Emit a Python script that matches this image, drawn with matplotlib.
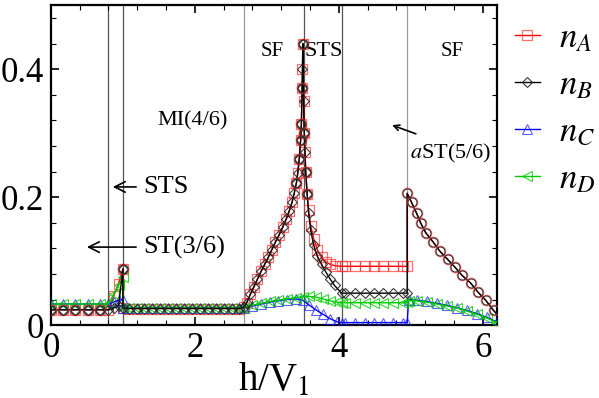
import numpy as np
import matplotlib.pyplot as plt
from matplotlib.ticker import MultipleLocator, FuncFormatter

plt.rcParams['font.family'] = ['Liberation Serif', 'DejaVu Serif']
plt.rcParams['mathtext.fontset'] = 'stix'

# n_A / n_B along the h/V1 sweep (up to the aST -> SF jump)
x_ab = [0, 0.17, 0.34, 0.51, 0.68, 0.80,
        0.87, 0.94, 1.00, 1.00,
        1.08, 1.19, 1.30, 1.41, 1.52, 1.63, 1.74, 1.85, 1.96, 2.07, 2.18, 2.29, 2.40, 2.51, 2.62,
        2.68, 2.72, 2.77, 2.82, 2.87, 2.92, 2.97, 3.02, 3.07, 3.12, 3.17, 3.22, 3.27, 3.31, 3.35,
        3.38, 3.41, 3.43, 3.45, 3.47, 3.48, 3.49, 3.495, 3.50,
        3.51, 3.52, 3.53, 3.54, 3.56, 3.58, 3.61, 3.65, 3.70, 3.76, 3.82, 3.88, 3.94, 4.04,
        4.08, 4.22, 4.36, 4.49, 4.62, 4.75, 4.89, 4.95]
nA = [0.024, 0.024, 0.024, 0.024, 0.024, 0.024,
      0.045, 0.065, 0.088, 0.027,
      0.026, 0.026, 0.026, 0.026, 0.026, 0.026, 0.026, 0.026, 0.026, 0.026, 0.026, 0.026, 0.026, 0.026, 0.026,
      0.028, 0.035, 0.048, 0.060, 0.072, 0.084, 0.095, 0.106, 0.118, 0.130, 0.141, 0.153, 0.166, 0.178, 0.192,
      0.206, 0.222, 0.238, 0.260, 0.290, 0.315, 0.370, 0.400, 0.440,
      0.350, 0.300, 0.270, 0.240, 0.205, 0.180, 0.155, 0.135, 0.118, 0.106, 0.099, 0.095, 0.093, 0.092,
      0.092, 0.092, 0.092, 0.092, 0.092, 0.092, 0.092, 0.092]
nB = [0.024, 0.024, 0.024, 0.024, 0.024, 0.024,
      0.027, 0.030, 0.088, 0.027,
      0.026, 0.026, 0.026, 0.026, 0.026, 0.026, 0.026, 0.026, 0.026, 0.026, 0.026, 0.026, 0.026, 0.026, 0.026,
      0.028, 0.035, 0.048, 0.060, 0.072, 0.084, 0.095, 0.106, 0.118, 0.130, 0.141, 0.153, 0.166, 0.178, 0.192,
      0.206, 0.222, 0.238, 0.260, 0.290, 0.315, 0.370, 0.400, 0.440,
      0.350, 0.300, 0.270, 0.240, 0.205, 0.175, 0.148, 0.125, 0.108, 0.095, 0.083, 0.072, 0.062, 0.050,
      0.050, 0.050, 0.050, 0.050, 0.050, 0.050, 0.050, 0.050]

# SF region after h/V1 ~ 4.95, where n_A = n_B (circle symbols)
x_sf = [4.95, 5.01, 5.08, 5.14, 5.21, 5.31, 5.40, 5.51, 5.61, 5.71, 5.83, 5.93, 6.04, 6.15, 6.22]
n_sf = [0.206, 0.192, 0.175, 0.159, 0.144, 0.130, 0.116, 0.103, 0.091, 0.078, 0.066, 0.052, 0.039, 0.023, 0.014]

# circle symbols over the A/B curves
x_circ = [0, 0.17, 0.34, 0.51, 0.68, 1.00,
          3.41, 3.45, 3.47, 3.48, 3.49, 3.50, 3.52, 3.54, 3.56,
          4.95, 5.01, 5.08, 5.14, 5.21, 5.31, 5.40, 5.51, 5.61, 5.71, 5.83, 5.93, 6.04, 6.15]
n_circ = [0.024, 0.024, 0.024, 0.024, 0.024, 0.088,
          0.222, 0.260, 0.290, 0.315, 0.370, 0.440, 0.300, 0.240, 0.205,
          0.206, 0.192, 0.175, 0.159, 0.144, 0.130, 0.116, 0.103, 0.091, 0.078, 0.066, 0.052, 0.039, 0.023]

# n_C / n_D
x_cd = [0, 0.17, 0.34, 0.51, 0.68, 0.80,
        0.87, 0.94, 1.00, 1.00,
        1.08, 1.19, 1.30, 1.41, 1.52, 1.63, 1.74, 1.85, 1.96, 2.07, 2.18, 2.29, 2.40, 2.51, 2.62,
        2.68, 2.80, 2.92, 3.04, 3.16, 3.28, 3.40, 3.50,
        3.58, 3.68, 3.78, 3.88, 3.98, 4.04,
        4.08, 4.22, 4.36, 4.49, 4.62, 4.75, 4.89, 4.95,
        4.97, 5.08, 5.22, 5.36, 5.50, 5.64, 5.78, 5.92, 6.06, 6.20]
nC = [0.033, 0.033, 0.033, 0.033, 0.033, 0.033,
      0.036, 0.039, 0.040, 0.027,
      0.027, 0.027, 0.027, 0.027, 0.027, 0.027, 0.027, 0.027, 0.027, 0.027, 0.027, 0.027, 0.027, 0.027, 0.027,
      0.027, 0.030, 0.033, 0.036, 0.038, 0.040, 0.041, 0.039,
      0.032, 0.024, 0.017, 0.010, 0.005, 0.004,
      0.004, 0.004, 0.004, 0.004, 0.004, 0.004, 0.004, 0.004,
      0.040, 0.039, 0.037, 0.034, 0.031, 0.027, 0.023, 0.018, 0.012, 0.005]
nD = [0.033, 0.033, 0.033, 0.033, 0.033, 0.033,
      0.048, 0.062, 0.075, 0.027,
      0.027, 0.027, 0.027, 0.027, 0.027, 0.027, 0.027, 0.027, 0.027, 0.027, 0.027, 0.027, 0.027, 0.027, 0.027,
      0.027, 0.031, 0.034, 0.037, 0.039, 0.041, 0.043, 0.044,
      0.045, 0.044, 0.041, 0.038, 0.036, 0.035,
      0.035, 0.035, 0.035, 0.035, 0.035, 0.035, 0.035, 0.036,
      0.038, 0.038, 0.036, 0.033, 0.030, 0.027, 0.022, 0.017, 0.011, 0.004]

phase_lines = [0.80, 1.00, 2.68, 3.52, 4.04, 4.95]
phase_colors = ['#555555', '#555555', '#9a9a9a', '#555555', '#555555', '#9a9a9a']

fig = plt.figure(figsize=(5.99, 3.98), dpi=100)
ax = fig.add_axes([0.085, 0.183, 0.745, 0.804])

for xv, c in zip(phase_lines, phase_colors):
    ax.axvline(xv, color=c, lw=0.9, zorder=1)

n_main = len(x_ab)
ax.plot(x_ab + x_sf, nA + n_sf, color='red', lw=1.0, marker='s', ms=6.5, mfc='none',
        mec=(1, 0.2, 0.2, 0.7), mew=0.9, markevery=slice(0, n_main), label='$n_A$', zorder=3)
ax.plot(x_ab + x_sf, nB + n_sf, color='black', lw=1.0, marker='D', ms=5.5, mfc='none',
        mec=(0.15, 0.15, 0.15, 0.9), mew=0.8, markevery=slice(0, n_main), label='$n_B$', zorder=4)
ax.plot(x_cd, nC, color='blue', lw=1.0, marker='^', ms=6.5, mfc='none',
        mec=(0.1, 0.1, 1, 0.7), mew=0.8, label='$n_C$', zorder=3)
ax.plot(x_cd, nD, color='#00cc00', lw=1.0, marker='<', ms=6.5, mfc='none',
        mec=(0, 0.8, 0, 0.8), mew=0.8, label='$n_D$', zorder=3)
ax.plot(x_circ, n_circ, ls='none', marker='o', ms=7.5, mfc='none', mec=(1, 0.2, 0.2, 0.7), mew=0.9, zorder=5)
ax.plot(x_circ, n_circ, ls='none', marker='o', ms=6.5, mfc='none', mec='#333333', mew=0.8, zorder=5)

ax.set_xlim(0, 6.2)
ax.set_ylim(0, 0.5)
ax.xaxis.set_major_locator(MultipleLocator(2))
ax.xaxis.set_minor_locator(MultipleLocator(0.4))
ax.yaxis.set_major_locator(MultipleLocator(0.2))
ax.yaxis.set_minor_locator(MultipleLocator(0.04))
ax.yaxis.set_major_formatter(FuncFormatter(lambda v, p: '0' if abs(v) < 1e-9 else f'{v:.1f}'))
ax.tick_params(which='both', direction='in', top=True, right=True, labelsize=25)
ax.tick_params(which='major', length=6, width=1.2)
ax.tick_params(which='minor', length=3.5, width=0.8)
ax.tick_params(axis='x', pad=5)
ax.tick_params(axis='y', pad=5)
for s in ax.spines.values():
    s.set_linewidth(1.6)

ax.set_xlabel('h/V$_1$', fontsize=28, labelpad=-2)

ax.annotate('STS', xy=(0.86, 0.216), xytext=(1.28, 0.216), fontsize=19, va='center', ha='left',
            arrowprops=dict(arrowstyle='->', color='black', lw=1.2, shrinkB=0, shrinkA=3))
ax.annotate('ST(3/6)', xy=(0.50, 0.122), xytext=(1.28, 0.122), fontsize=19, va='center', ha='left',
            arrowprops=dict(arrowstyle='->', color='black', lw=1.2, shrinkB=0, shrinkA=3))
ax.text(1.97, 0.32, 'MI(4/6)', fontsize=16, ha='center', va='center')
ax.text(3.07, 0.427, 'SF', fontsize=15, ha='center', va='center')
ax.text(3.79, 0.427, 'STS', fontsize=16, ha='center', va='center')
ax.text(5.57, 0.427, 'SF', fontsize=15, ha='center', va='center')
ax.text(5.56, 0.269, '$a$ST(5/6)', fontsize=16, ha='center', va='center')
ax.annotate('', xy=(4.74, 0.3125), xytext=(5.07, 0.299),
            arrowprops=dict(arrowstyle='->', color='black', lw=1.2, shrinkA=0, shrinkB=0))

ax.legend(loc='upper left', bbox_to_anchor=(1.0, 1.0), frameon=False, fontsize=25,
          handlelength=0.72, handletextpad=0.55, labelspacing=0.4, borderaxespad=0.0,
          borderpad=0.5)

fig.savefig('out.png', dpi=100)
